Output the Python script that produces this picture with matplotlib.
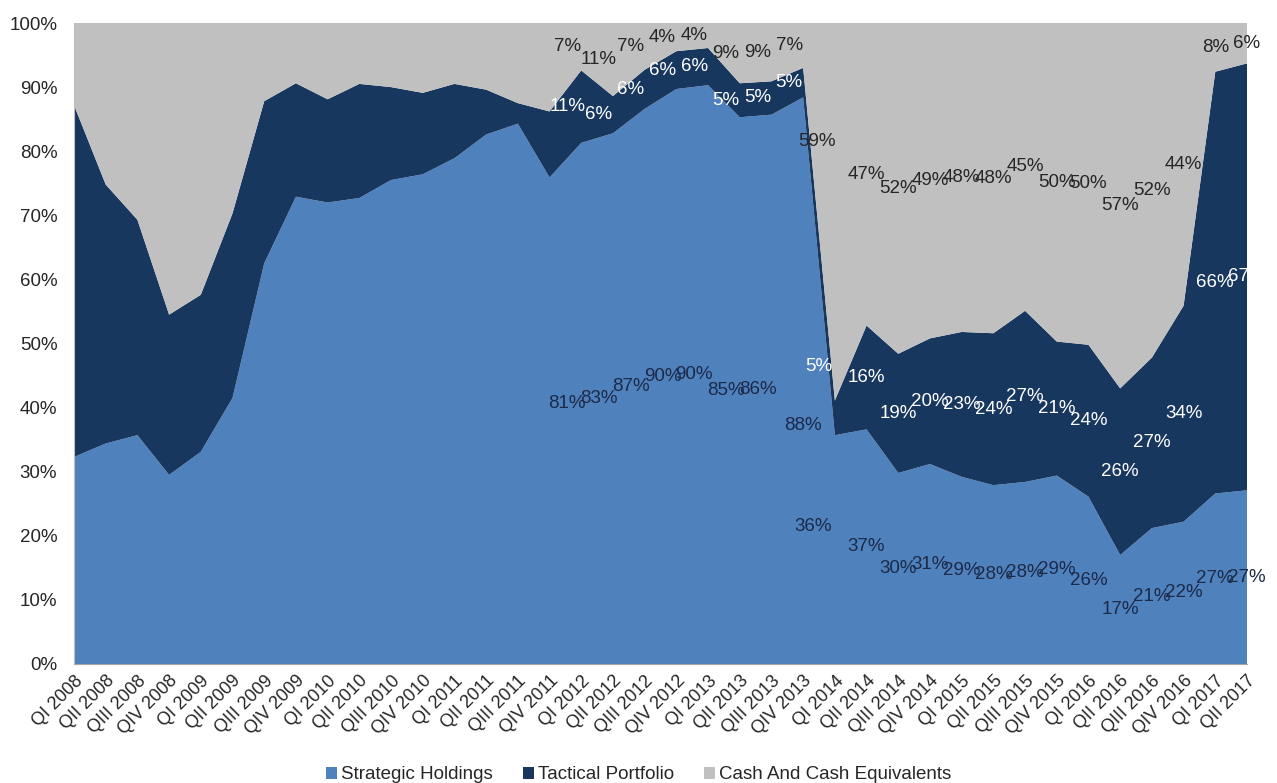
import matplotlib
matplotlib.use("Agg")
import matplotlib.pyplot as plt
import numpy as np
from matplotlib.ticker import FuncFormatter

plt.rcParams['font.family'] = ['Liberation Sans', 'DejaVu Sans']

# quarterly allocation, % of portfolio
quarters = ["QI 2008", "QII 2008", "QIII 2008", "QIV 2008",
            "QI 2009", "QII 2009", "QIII 2009", "QIV 2009",
            "QI 2010", "QII 2010", "QIII 2010", "QIV 2010",
            "QI 2011", "QII 2011", "QIII 2011", "QIV 2011",
            "QI 2012", "QII 2012", "QIII 2012", "QIV 2012",
            "QI 2013", "QII 2013", "QIII 2013", "QIV 2013",
            "QI 2014", "QII 2014", "QIII 2014", "QIV 2014",
            "QI 2015", "QII 2015", "QIII 2015", "QIV 2015",
            "QI 2016", "QII 2016", "QIII 2016", "QIV 2016",
            "QI 2017", "QII 2017"]

strategic = [32.3, 34.4, 35.7, 29.5, 33.1, 41.5, 62.5, 72.9,
             72.0, 72.7, 75.5, 76.4, 78.9, 82.6, 84.3, 75.9,
             81.3, 82.8, 86.6, 89.7, 90.3, 85.3, 85.7, 88.4,
             35.7, 36.6, 29.8, 31.2, 29.2, 27.9, 28.4, 29.4,
             26.1, 17.0, 21.2, 22.2, 26.6, 27.1]

tactical = [54.9, 40.4, 33.6, 25.0, 24.5, 28.8, 25.3, 17.7,
            16.1, 17.8, 14.5, 12.7, 11.6, 7.0, 3.2, 10.3,
            11.3, 5.8, 6.1, 5.9, 5.8, 5.3, 5.2, 4.6,
            5.4, 16.2, 18.6, 19.6, 22.6, 23.7, 26.7, 20.9,
            23.7, 26.0, 26.6, 33.7, 65.8, 66.6]

cash = [12.8, 25.2, 30.7, 45.5, 42.4, 29.7, 12.2, 9.4,
        11.9, 9.5, 10.0, 10.9, 9.5, 10.4, 12.5, 13.8,
        7.4, 11.4, 7.3, 4.4, 3.9, 9.4, 9.1, 7.0,
        58.9, 47.2, 51.6, 49.2, 48.2, 48.4, 44.9, 49.7,
        50.2, 57.0, 52.2, 44.1, 7.6, 6.3]

names = ["Strategic Holdings", "Tactical Portfolio", "Cash And Cash Equivalents"]
colors = ["#4F81BD", "#17375E", "#C0C0C0"]
label_colors = ["#1B2A48", "white", "#262626"]
first_labeled = 16

fig = plt.figure(figsize=(12.77, 7.83), dpi=100)
ax = fig.add_axes([74 / 1277, 1 - 664 / 783, 1173 / 1277, 641 / 783])

x = np.arange(len(quarters))
series = [np.array(strategic), np.array(tactical), np.array(cash)]
ax.stackplot(x, *series, colors=colors, labels=names, linewidth=0)

# data labels in the middle of each band
nudge = {(23, 0): (0.0, -7.0), (24, 0): (-0.7, 3.6),
         (24, 1): (-0.5, 8.0), (24, 2): (-0.55, 11.0)}
base = np.zeros(len(quarters))
for k, vals in enumerate(series):
    for i in range(first_labeled, len(quarters)):
        dx = -0.44 if i < 24 else 0.0
        dy = 0.0
        if (i, k) in nudge:
            dx, dy = nudge[(i, k)]
        ax.text(i + dx, base[i] + vals[i] / 2 + dy, f"{vals[i]:.0f}%",
                ha='center', va='center', fontsize=13.5,
                color=label_colors[k], clip_on=False)
    base = base + vals

ax.set_xlim(0, len(quarters) - 1)
ax.set_ylim(0, 100)
ax.set_yticks(np.arange(0, 101, 10))
ax.yaxis.set_major_formatter(FuncFormatter(lambda v, p: f"{v:.0f}%"))
ax.set_xticks(x)
ax.set_xticklabels(quarters, rotation=45, ha='right', rotation_mode='anchor')
ax.tick_params(axis='y', length=0, labelsize=13.5, colors='#262626', pad=12)
ax.tick_params(axis='x', length=0, labelsize=13, colors='#262626', pad=6)

for side in ['top', 'right']:
    ax.spines[side].set_visible(False)
ax.spines['left'].set_color('#BFBFBF')
ax.spines['bottom'].set_color('#A6A6A6')

leg = fig.legend(loc='lower center', bbox_to_anchor=(0.5, -0.022), ncol=3,
                 frameon=False, fontsize=13.5, handlelength=0.6,
                 handleheight=0.6, handletextpad=0.2, columnspacing=1.6)
for t in leg.get_texts():
    t.set_color('#262626')

fig.savefig("out.png", dpi=100)
